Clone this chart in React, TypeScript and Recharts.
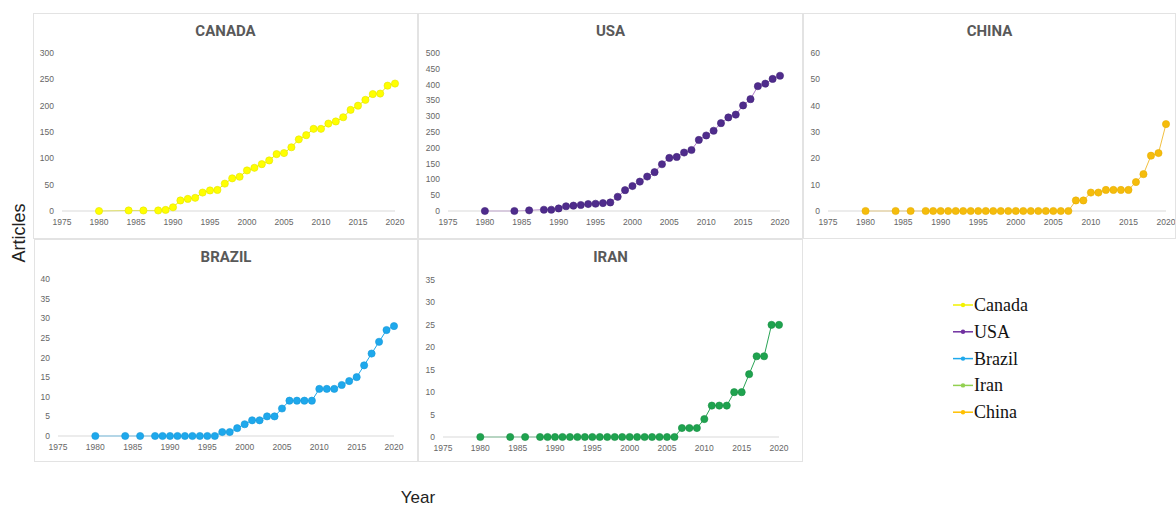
import React from 'react';
import { LineChart, Line, XAxis, YAxis } from 'recharts';

const years = [
  1980, 1984, 1986, 1988, 1989, 1990, 1991, 1992, 1993, 1994, 1995, 1996,
  1997, 1998, 1999, 2000, 2001, 2002, 2003, 2004, 2005, 2006, 2007, 2008,
  2009, 2010, 2011, 2012, 2013, 2014, 2015, 2016, 2017, 2018, 2019, 2020,
];

const canada = [
  0, 1, 1, 1, 2, 7, 20, 23, 25, 35, 39, 40,
  52, 62, 65, 77, 82, 89, 96, 108, 110, 121, 136, 144,
  156, 156, 166, 170, 178, 192, 200, 211, 222, 223, 238, 242,
];
const usa = [
  0, 0, 2, 4, 4, 8, 15, 17, 19, 22, 23, 25,
  27, 45, 66, 79, 93, 109, 123, 148, 168, 171, 185, 193,
  225, 239, 254, 278, 296, 305, 334, 354, 395, 403, 418, 428,
];
const china = [
  0, 0, 0, 0, 0, 0, 0, 0, 0, 0, 0, 0,
  0, 0, 0, 0, 0, 0, 0, 0, 0, 0, 0, 4,
  4, 7, 7, 8, 8, 8, 8, 11, 14, 21, 22, 33,
];
const brazil = [
  0, 0, 0, 0, 0, 0, 0, 0, 0, 0, 0, 0,
  1, 1, 2, 3, 4, 4, 5, 5, 7, 9, 9, 9,
  9, 12, 12, 12, 13, 14, 15, 18, 21, 24, 27, 28,
];
const iran = [
  0, 0, 0, 0, 0, 0, 0, 0, 0, 0, 0, 0,
  0, 0, 0, 0, 0, 0, 0, 0, 0, 0, 2, 2,
  2, 4, 7, 7, 7, 10, 10, 14, 18, 18, 25, 25,
];

const xTicks = [1975, 1980, 1985, 1990, 1995, 2000, 2005, 2010, 2015, 2020];
const canadaTicks = [0, 50, 100, 150, 200, 250, 300];
const usaTicks = [0, 50, 100, 150, 200, 250, 300, 350, 400, 450, 500];
const chinaTicks = [0, 10, 20, 30, 40, 50, 60];
const brazilTicks = [0, 5, 10, 15, 20, 25, 30, 35, 40];
const iranTicks = [0, 5, 10, 15, 20, 25, 30, 35];

const legendItems = [
  { name: 'Canada', color: '#f2f200' },
  { name: 'USA', color: '#7030a0' },
  { name: 'Brazil', color: '#1ea8ec' },
  { name: 'Iran', color: '#92d050' },
  { name: 'China', color: '#ffc000' },
];

const toRows = (vals: number[]) => years.map((y, i) => ({ year: y, value: vals[i] }));

const tickStyle = { fontSize: 8.5, fill: '#666', fontFamily: 'Liberation Sans, Arial, sans-serif' };

type PanelProps = {
  title: string;
  values: number[];
  yTicks: number[];
  fill: string;
  stroke: string;
  lineColor: string;
  left: number;
  top: number;
  width: number;
  height: number;
  m: { l: number; r: number; t: number; b: number };
};

function Panel({ title, values, yTicks, fill, stroke, lineColor, left, top, width, height, m }: PanelProps) {
  const data = toRows(values);
  return (
    <div style={{ position: 'absolute', left, top, width, height }}>
      <LineChart width={width} height={height} data={data} margin={{ top: m.t, right: m.r, left: 0, bottom: 0 }}>
        <XAxis
          type="number"
          dataKey="year"
          domain={[1975, 2020]}
          ticks={xTicks}
          interval={0}
          tickLine={false}
          axisLine={{ stroke: '#d9d9d9' }}
          height={m.b}
          tick={tickStyle}
        />
        <YAxis
          type="number"
          domain={[0, yTicks[yTicks.length - 1]]}
          ticks={yTicks}
          interval={0}
          tickLine={false}
          axisLine={false}
          width={m.l}
          tick={tickStyle}
        />
        <Line
          type="linear"
          dataKey="value"
          stroke={lineColor}
          strokeWidth={1}
          dot={{ r: 3.6, fill, stroke, strokeWidth: 0.6 }}
          isAnimationActive={false}
        />
      </LineChart>
      <div
        style={{
          position: 'absolute',
          left: 0,
          top: 10,
          width,
          textAlign: 'center',
          fontFamily: 'Roboto, Arial, sans-serif',
          fontWeight: 700,
          fontSize: 15,
          lineHeight: '16px',
          color: '#595959',
        }}
      >
        {title}
      </div>
      <div
        style={{
          position: 'absolute',
          left: 0,
          top: 0,
          width,
          height,
          boxSizing: 'border-box',
          border: '1px solid #e3e3e3',
          pointerEvents: 'none',
        }}
      />
    </div>
  );
}

export default function App() {
  return (
    <div
      style={{
        position: 'absolute',
        left: 0,
        top: 0,
        width: 1176,
        height: 507,
        background: '#fff',
        overflow: 'hidden',
      }}
    >
      <Panel title="CANADA" values={canada} yTicks={canadaTicks} fill="#ffff00" stroke="#e4e400" lineColor="#e8e800"
        left={33} top={13} width={385} height={226} m={{ l: 29, r: 23, t: 40, b: 28 }} />
      <Panel title="USA" values={usa} yTicks={usaTicks} fill="#4f2c8c" stroke="#43247a" lineColor="#b07ac8"
        left={418} top={13} width={385} height={226} m={{ l: 30, r: 23, t: 40, b: 28 }} />
      <Panel title="CHINA" values={china} yTicks={chinaTicks} fill="#f5bc0c" stroke="#e8ae00" lineColor="#f2c040"
        left={803} top={13} width={373} height={226} m={{ l: 25, r: 10, t: 40, b: 28 }} />
      <Panel title="BRAZIL" values={brazil} yTicks={brazilTicks} fill="#1ea8ec" stroke="#1598d8" lineColor="#1ea8ec"
        left={34} top={239} width={384} height={223} m={{ l: 24, r: 24, t: 40, b: 26 }} />
      <Panel title="IRAN" values={iran} yTicks={iranTicks} fill="#1fa34f" stroke="#188f43" lineColor="#2aa456"
        left={418} top={239} width={385} height={223} m={{ l: 25, r: 24, t: 41, b: 25 }} />

      <svg style={{ position: 'absolute', left: 940, top: 290 }} width={140} height={140}>
        {legendItems.map((it, i) => {
          const cy = 15 + i * 26.8;
          return (
            <g key={it.name}>
              <line x1={13} x2={33} y1={cy} y2={cy} stroke={it.color} strokeWidth={1.5} />
              <circle cx={23} cy={cy} r={2.2} fill={it.color} />
              <text
                x={34}
                y={cy + 6}
                fontFamily="Liberation Serif, Times New Roman, serif"
                fontSize={18}
                fill="#111"
              >
                {it.name}
              </text>
            </g>
          );
        })}
      </svg>

      <svg style={{ position: 'absolute', left: 0, top: 0 }} width={1176} height={507} pointerEvents="none">
        <text
          x={25}
          y={233}
          transform="rotate(-90 25 233)"
          textAnchor="middle"
          fontFamily="Liberation Sans, Arial, sans-serif"
          fontSize={18}
          fill="#222"
        >
          Articles
        </text>
        <text
          x={418}
          y={503}
          textAnchor="middle"
          fontFamily="Liberation Sans, Arial, sans-serif"
          fontSize={17}
          fill="#222"
        >
          Year
        </text>
      </svg>
    </div>
  );
}
